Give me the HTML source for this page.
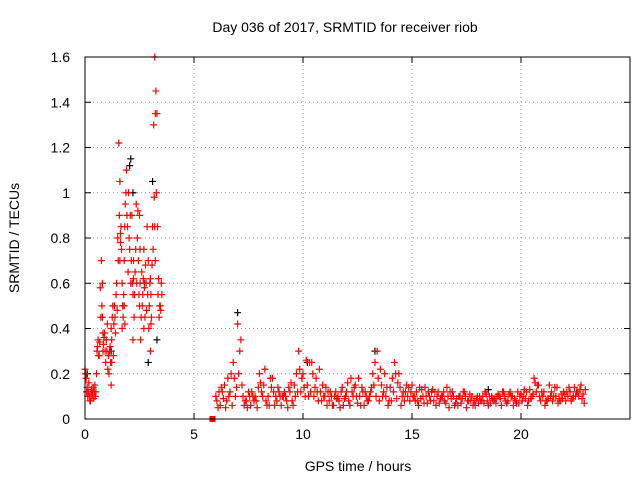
<!DOCTYPE html>
<html><head><meta charset="utf-8"><style>
body{margin:0;background:#fff;}
svg{display:block;font-family:"Liberation Sans",sans-serif;}
</style></head><body>
<svg id="chart" width="640" height="480">
<text x="345" y="32" font-size="14" text-anchor="middle">Day 036 of 2017, SRMTID for receiver riob</text>
<text x="358" y="471" font-size="14" text-anchor="middle">GPS time / hours</text>
<text transform="translate(19,238) rotate(-90)" font-size="14" text-anchor="middle">SRMTID / TECUs</text>
<g id="grid"></g><g id="ticks"></g><g id="marks"></g>
<rect x="85" y="57" width="545" height="362" fill="none" stroke="#000"/>
</svg>
<script>
const xTicks=[0,5,10,15,20];
const yTicks=[0,0.2,0.4,0.6,0.8,1,1.2,1.4,1.6];
const yTickLabels=["0","0.2","0.4","0.6","0.8","1","1.2","1.4","1.6"];
const earlyT=[0,0.05,0.1,0.15,0.2,0.25,0.3,0.35,0.4,0.45,0.5,0.55,0.6,0.65,0.7,0.75,0.8,0.85,0.9,0.95,1.0,1.05,1.1,1.15,1.2,1.25,1.3,1.35,1.4,1.45,1.5,1.55,1.6,1.65,1.7,1.75,1.8,1.85,1.9,1.95,2.0,2.05,2.1,2.15,2.2,2.25,2.3,2.35,2.4,2.45,2.5,2.55,2.6,2.65,2.7,2.75,2.8,2.85,2.9,2.95,3.0,3.05,3.1,3.15,3.2,3.25,3.3,3.35,3.4,3.45,3.5,1.6,1.7,1.8,2.2,2.5,2.7,3.0,3.2,1.2,0.8];
const earlyV=[0.22,0.18,0.14,0.12,0.1,0.08,0.13,0.11,0.09,0.15,0.12,0.3,0.35,0.28,0.58,0.7,0.45,0.33,0.38,0.25,0.3,0.22,0.2,0.32,0.4,0.45,0.28,0.5,0.38,0.6,0.8,1.22,1.05,0.85,0.6,0.45,0.7,0.95,1.1,0.85,1.0,0.75,0.6,0.9,0.55,0.45,0.65,0.95,0.8,0.7,0.5,0.35,0.65,0.55,0.75,0.45,0.6,0.85,0.7,0.5,0.62,0.45,0.85,1.3,1.6,1.45,1.35,0.55,0.45,0.5,0.6,0.7,0.4,0.5,0.35,0.9,0.4,0.3,0.85,0.15,0.6];
const earlyV2=[0.2,0.12,0.1,0.16,0.08,0.12,0.1,0.14,0.12,0.1,0.2,0.32,0.28,0.34,0.45,0.5,0.3,0.36,0.3,0.35,0.42,0.28,0.3,0.25,0.35,0.5,0.42,0.45,0.55,0.48,0.7,0.9,0.78,0.75,0.5,0.55,0.85,1.0,0.9,0.65,0.8,0.9,0.7,0.6,0.7,0.55,0.75,0.6,0.92,0.55,0.6,0.45,0.5,0.62,0.6,0.68,0.48,0.55,0.4,0.6,0.55,0.68,0.75,0.98,1.35,1.0,0.85,0.62,0.5,0.48,0.55,0.82,0.5,0.42,0.62,0.75,0.58,0.42,0.7,0.25,0.38];
const lateT=[6.0,6.2,6.4,6.6,6.8,7.0,7.2,7.4,7.6,7.8,8.0,8.2,8.4,8.6,8.8,9.0,9.2,9.4,9.6,9.8,10.0,10.2,10.4,10.6,10.8,11.0,11.2,11.4,11.6,11.8,12.0,12.2,12.4,12.6,12.8,13.0,13.2,13.4,13.6,13.8,14.0,14.2,14.4,14.6,14.8,15.0,15.2,15.4,15.6,15.8,16.0,16.2,16.4,16.6,16.8,17.0,17.2,17.4,17.6,17.8,18.0,18.2,18.4,18.6,18.8,19.0,19.2,19.4,19.6,19.8,20.0,20.2,20.4,20.6,20.8,21.0,21.2,21.4,21.6,21.8,22.0,22.2,22.4,22.6,22.8];
const lateV=[0.1,0.06,0.15,0.1,0.25,0.42,0.15,0.08,0.06,0.1,0.2,0.15,0.1,0.18,0.08,0.06,0.1,0.12,0.15,0.3,0.2,0.15,0.25,0.18,0.12,0.1,0.08,0.06,0.1,0.14,0.12,0.18,0.15,0.1,0.06,0.08,0.2,0.3,0.15,0.1,0.14,0.25,0.2,0.12,0.1,0.15,0.12,0.09,0.14,0.1,0.08,0.12,0.1,0.14,0.09,0.07,0.1,0.12,0.08,0.06,0.1,0.08,0.11,0.07,0.09,0.1,0.12,0.08,0.1,0.07,0.11,0.09,0.13,0.18,0.15,0.1,0.08,0.12,0.1,0.08,0.11,0.14,0.1,0.12,0.09];
const lateV2=[0.05,0.12,0.08,0.2,0.1,0.3,0.06,0.12,0.1,0.05,0.12,0.08,0.18,0.06,0.12,0.1,0.05,0.08,0.2,0.12,0.1,0.25,0.1,0.08,0.15,0.06,0.1,0.12,0.05,0.09,0.08,0.1,0.07,0.14,0.1,0.12,0.25,0.08,0.12,0.06,0.18,0.09,0.06,0.12,0.08,0.1,0.06,0.1,0.07,0.12,0.06,0.09,0.08,0.05,0.1,0.06,0.09,0.05,0.08,0.06,0.1,0.07,0.06,0.09,0.1,0.06,0.08,0.12,0.09,0.07,0.1,0.06,0.1,0.12,0.08,0.06,0.15,0.1,0.07,0.09,0.12,0.08,0.1,0.13,0.07];
const lateV3=[0.08,0.14,0.05,0.12,0.18,0.2,0.1,0.05,0.12,0.08,0.16,0.22,0.06,0.12,0.14,0.1,0.08,0.16,0.1,0.22,0.14,0.1,0.2,0.12,0.08,0.14,0.12,0.1,0.08,0.06,0.16,0.12,0.1,0.06,0.12,0.1,0.15,0.18,0.1,0.14,0.08,0.2,0.14,0.08,0.14,0.1,0.08,0.13,0.1,0.08,0.12,0.07,0.12,0.1,0.12,0.09,0.07,0.1,0.11,0.08,0.07,0.1,0.08,0.1,0.07,0.09,0.1,0.11,0.06,0.12,0.08,0.12,0.09,0.16,0.1,0.12,0.09,0.08,0.14,0.11,0.08,0.12,0.14,0.1,0.11];
const lateV4=[0.12,0.09,0.18,0.06,0.14,0.35,0.08,0.1,0.08,0.14,0.1,0.06,0.14,0.1,0.1,0.12,0.14,0.06,0.12,0.18,0.26,0.12,0.14,0.22,0.1,0.12,0.06,0.09,0.12,0.1,0.06,0.14,0.18,0.12,0.08,0.14,0.1,0.22,0.2,0.08,0.12,0.16,0.1,0.15,0.12,0.08,0.14,0.07,0.12,0.13,0.1,0.1,0.07,0.12,0.06,0.1,0.12,0.08,0.1,0.09,0.08,0.12,0.1,0.08,0.11,0.12,0.07,0.1,0.08,0.1,0.13,0.08,0.11,0.15,0.12,0.08,0.1,0.14,0.09,0.12,0.1,0.09,0.12,0.15,0.13];
const blackT=[0.1,1.2,2.1,2.2,3.1,3.3,2.9,7.0,13.3,18.5,10.2,2.05];
const blackV=[0.2,0.3,1.15,1.0,1.05,0.35,0.25,0.47,0.3,0.13,0.25,1.12];
const squareT=[5.85];const squareV=[0];
const X0=85,X1=630,Y0=419,Y1=57,XMAX=25,YMAX=1.6;
const sx=t=>X0+(X1-X0)*t/XMAX, sy=v=>Y0-(Y0-Y1)*v/YMAX;
const NS="http://www.w3.org/2000/svg";
function mk(tag,parent,attrs){const e=document.createElementNS(NS,tag);for(const k in attrs)e.setAttribute(k,attrs[k]);parent.appendChild(e);return e;}
const grid=document.getElementById('grid'),ticks=document.getElementById('ticks'),marks=document.getElementById('marks');
xTicks.forEach(t=>{const x=sx(t);
 if(t>0){const g=mk('line',grid,{x1:x,x2:x,y1:Y1,y2:Y0,stroke:'#999','stroke-dasharray':'1,3'});
 
 }
 mk('line',ticks,{x1:x,x2:x,y1:Y0,y2:Y0-6,stroke:'#000'});mk('line',ticks,{x1:x,x2:x,y1:Y1,y2:Y1+6,stroke:'#000'});
 const l=mk('text',ticks,{x:x,y:Y0+20,'font-size':14,'text-anchor':'middle'});l.textContent=t;
 
 });
yTicks.forEach((v,i)=>{const y=sy(v);
 if(v>0&&v<YMAX){const g=mk('line',grid,{x1:X0,x2:X1,y1:y,y2:y,stroke:'#999','stroke-dasharray':'1,3'});
 
 }
 mk('line',ticks,{x1:X0,x2:X0+6,y1:y,y2:y,stroke:'#000'});mk('line',ticks,{x1:X1,x2:X1-6,y1:y,y2:y,stroke:'#000'});
 const l=mk('text',ticks,{x:X0-15,y:y+5,'font-size':14,'text-anchor':'end'});l.textContent=yTickLabels[i];
 
 });
function plus(t,v,c,name){const x=sx(t),y=sy(v);
 const p=mk('path',marks,{d:`M${x-3.5},${y}H${x+3.5}M${x},${y-3.5}V${y+3.5}`,stroke:c,'stroke-width':1.2,fill:'none'});
 
 }
blackT.forEach((t,i)=>plus(t,blackV[i],'#000','black-point'));
earlyT.forEach((t,i)=>{plus(t,earlyV[i],'#f00','red-point');if(i<earlyV2.length)plus(t+0.025,earlyV2[i],'#f00','red-point');});
lateT.forEach((t,i)=>{plus(t,lateV[i],'#f00','red-point');
 if(i<lateV2.length)plus(t+0.1,lateV2[i],'#f00','red-point');
 if(i<lateV3.length)plus(t+0.05,lateV3[i],'#f00','red-point');
 if(i<lateV4.length)plus(t+0.15,lateV4[i],'#f00','red-point');});
squareT.forEach((t,i)=>{const r=mk('rect',marks,{x:sx(t)-3,y:sy(squareV[i])-3,width:6,height:6,fill:'#f00'});
 
 });
</script>
</body></html>
